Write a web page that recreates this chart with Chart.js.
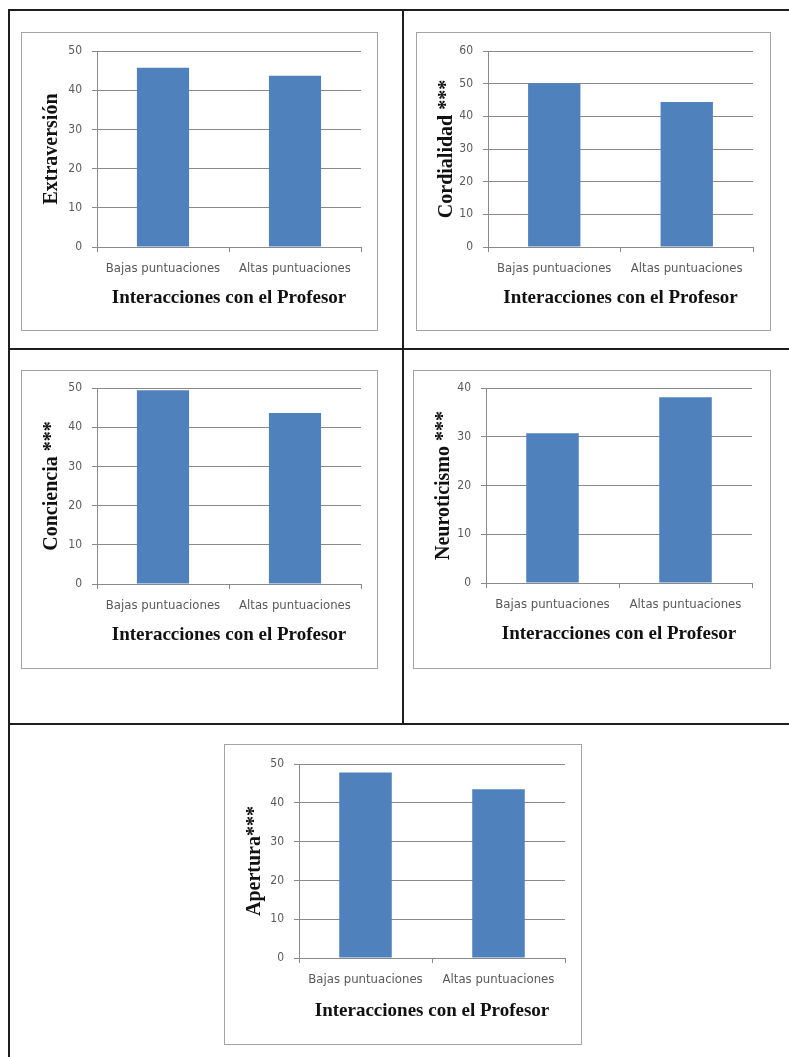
<!DOCTYPE html>
<html><head><meta charset="utf-8">
<script src="https://cdn.jsdelivr.net/npm/chart.js@4"></script>
<style>
body{margin:0;background:#fff;width:789px;height:1057px;position:relative;overflow:hidden}
.ln{position:absolute;background:#1e1e1e}
.box{position:absolute;border:1.5px solid #a3a3a3;box-sizing:border-box;pointer-events:none}
canvas{position:absolute}
</style></head>
<body>
<div class="ln" style="left:8px;top:9px;width:781px;height:1.5px"></div>
<div class="ln" style="left:8px;top:348px;width:781px;height:1.5px"></div>
<div class="ln" style="left:8px;top:723px;width:781px;height:1.5px"></div>
<div class="ln" style="left:8px;top:9px;width:1.5px;height:1048px"></div>
<div class="ln" style="left:402px;top:9px;width:1.5px;height:714px"></div>
<script>
// ---- data ----
const categories = ["Bajas puntuaciones", "Altas puntuaciones"];
const extraversion = [45.7, 43.7];
const cordialidad = [50.1, 44.4];
const conciencia = [49.4, 43.6];
const neuroticismo = [30.7, 38.1];
const apertura = [47.8, 43.5];
const yTitles = ["Extraversión", "Cordialidad ***", "Conciencia ***", "Neuroticismo ***", "Apertura***"];
const yMax = [50, 60, 50, 40, 50];
const yStep = 10;
const xTitle = "Interacciones con el Profesor";
const seriesList = [extraversion, cordialidad, conciencia, neuroticismo, apertura];

// ---- layout (page px): box and plot rectangles ----
const layouts = [
  {box:[21,32,378,331],  plot:[97,51,361,247],  xt:51},
  {box:[416,32,771,331], plot:[488,51,753,247], xt:51},
  {box:[21,370,378,669], plot:[97,388,361,584], xt:51},
  {box:[413,370,771,669],plot:[486,388,752,583],xt:51},
  {box:[224,744,582,1045],plot:[299,764,565,958],xt:53}
];

const labelFont = {family:"'Liberation Sans Narrow','DejaVu Sans Condensed','Open Sans',sans-serif", size:13};
const tickFont = {family:"'Liberation Sans Narrow','DejaVu Sans Condensed','Open Sans',sans-serif", size:12};
const titleFont = {family:"'Liberation Serif','Times New Roman',serif", size:19, weight:'bold'};
const yTitleFont = {family:"'Liberation Serif','Times New Roman',serif", size:20, weight:'bold'};
const gridColor = '#8a8a8a';
const textColor = '#595959';

seriesList.forEach((vals, i) => {
  const L = layouts[i];
  const [bx0, by0, bx1, by1] = L.box;
  const [px0, py0, px1, py1] = L.plot;
  const cv = document.createElement('canvas');
  cv.style.left = bx0 + 'px'; cv.style.top = by0 + 'px';
  cv.width = bx1 - bx0; cv.height = by1 - by0;
  cv.style.width = (bx1 - bx0) + 'px'; cv.style.height = (by1 - by0) + 'px';
  document.body.appendChild(cv);
  const bd = document.createElement('div');
  bd.className = 'box';
  bd.style.left = bx0 + 'px'; bd.style.top = by0 + 'px';
  bd.style.width = (bx1 - bx0) + 'px'; bd.style.height = (by1 - by0) + 'px';
  document.body.appendChild(bd);

  const yW = px0 - bx0, xH = by1 - py1;
  const lh = titleFont.size * 1.2;
  const ylh = yTitleFont.size * 1.2;
  new Chart(cv, {
    type: 'bar',
    data: { labels: categories, datasets: [{ data: vals, backgroundColor: '#4F81BD', borderWidth: 0,
      categoryPercentage: 1, barPercentage: 0.395 }] },
    options: {
      responsive: false, animation: false, devicePixelRatio: 1,
      layout: { padding: { left: 0, top: py0 - by0, right: bx1 - px1, bottom: 0 } },
      plugins: { legend: { display: false }, tooltip: { enabled: false } },
      scales: {
        x: {
          afterFit: s => { s.height = xH; },
          grid: { display: true, drawOnChartArea: false, offset: true, tickLength: 5, color: gridColor, lineWidth: 1 },
          border: { display: true, color: gridColor, width: 1 },
          ticks: { color: textColor, font: labelFont, padding: 9, maxRotation: 0, autoSkip: false },
          title: { display: true, text: xTitle, font: titleFont, color: '#111', padding: { top: 0, bottom: xH - lh / 2 - L.xt } }
        },
        y: {
          min: 0, max: yMax[i],
          afterFit: s => { s.width = yW; },
          grid: { color: gridColor, lineWidth: 1, tickLength: 5 },
          border: { display: true, color: gridColor, width: 1 },
          ticks: { stepSize: yStep, color: textColor, font: tickFont, padding: 10 },
          title: { display: true, text: yTitles[i], font: yTitleFont, color: '#111', padding: { top: 31 - ylh / 2, bottom: 0 } }
        }
      }
    }
  });
});
</script>
</body></html>
